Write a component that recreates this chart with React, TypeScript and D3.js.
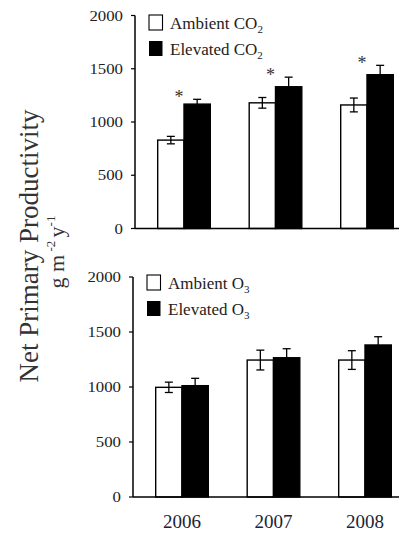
import React from "react";
import * as d3 from "d3";

const years = ["2006", "2007", "2008"];
const yTicks = [0, 500, 1000, 1500, 2000];

const co2Ambient = [830, 1180, 1160];
const co2AmbientErr = [35, 50, 65];
const co2Elevated = [1168, 1331, 1444];
const co2ElevatedErr = [45, 90, 88];
const co2Significant = [true, true, true];

const o3Ambient = [997, 1245, 1245];
const o3AmbientErr = [47, 90, 85];
const o3Elevated = [1012, 1266, 1382];
const o3ElevatedErr = [67, 82, 75];
const o3Significant = [false, false, false];

const W = 399;
const H = 533;
const FONT = "'Liberation Serif', 'Times New Roman', serif";

type PanelProps = {
  axisX: number;
  y0: number;
  y1: number;
  amb: number[];
  ambErr: number[];
  elev: number[];
  elevErr: number[];
  sig: boolean[];
  gas: string;
  legendX: number;
  legendY: number;
  showYears: boolean;
};

function Panel(p: PanelProps) {
  const x = d3
    .scaleBand<string>()
    .domain(years)
    .range([p.axisX, p.axisX + 281])
    .paddingInner(0.425)
    .paddingOuter(0.248);
  const y = d3.scaleLinear().domain([0, 2000]).range([p.y0, p.y1]);
  const bw = x.bandwidth() / 2;
  const cap = 4;

  const errBar = (cx: number, v: number, e: number, key: string) => (
    <g key={key} stroke="#000" strokeWidth={1.3}>
      <line x1={cx} x2={cx} y1={y(v - e)} y2={y(v + e)} />
      <line x1={cx - cap} x2={cx + cap} y1={y(v + e)} y2={y(v + e)} />
      <line x1={cx - cap} x2={cx + cap} y1={y(v - e)} y2={y(v - e)} />
    </g>
  );

  return (
    <g>
      {years.map((yr, i) => {
        const gx = x(yr)!;
        return (
          <g key={yr}>
            <rect
              x={gx}
              y={y(p.amb[i])}
              width={bw}
              height={y(0) - y(p.amb[i])}
              fill="#fff"
              stroke="#000"
              strokeWidth={1.4}
            />
            <rect
              x={gx + bw}
              y={y(p.elev[i])}
              width={bw}
              height={y(0) - y(p.elev[i])}
              fill="#000"
              stroke="#000"
              strokeWidth={1.4}
            />
            {errBar(gx + bw / 2, p.amb[i], p.ambErr[i], "a" + yr)}
            {errBar(gx + bw * 1.5, p.elev[i], p.elevErr[i], "e" + yr)}
            {p.sig[i] && (
              <text
                x={gx + bw - 5}
                y={y(p.elev[i] + p.elevErr[i]) + 4}
                fontFamily={FONT}
                fontSize={18}
                textAnchor="middle"
                fill="#333"
              >
                *
              </text>
            )}
          </g>
        );
      })}
      <line x1={p.axisX} x2={W} y1={y(0)} y2={y(0)} stroke="#000" strokeWidth={1.5} />
      <line x1={p.axisX} x2={p.axisX} y1={y(0)} y2={y(2000)} stroke="#000" strokeWidth={1.5} />
      {yTicks.map((t) => (
        <g key={t}>
          <line x1={p.axisX - 4} x2={p.axisX} y1={y(t)} y2={y(t)} stroke="#000" strokeWidth={1.2} />
          <text
            transform={`translate(${p.axisX - 12},${y(t) + 5}) scale(1.2,1)`}
            textAnchor="end"
            fontFamily={FONT}
            fontSize={14}
            fill="#222"
          >
            {t}
          </text>
        </g>
      ))}
      <rect x={p.legendX} y={p.legendY} width={13.5} height={15} fill="#fff" stroke="#000" strokeWidth={1.1} />
      <text x={p.legendX + 21} y={p.legendY + 14} fontFamily={FONT} fontSize={17} fill="#222">
        Ambient {p.gas}
        <tspan fontSize={11} dy={4}>
          {p.gas === "CO" ? "2" : "3"}
        </tspan>
      </text>
      <rect x={p.legendX} y={p.legendY + 26} width={13.5} height={15} fill="#000" />
      <text x={p.legendX + 21} y={p.legendY + 40} fontFamily={FONT} fontSize={17} fill="#222">
        Elevated {p.gas}
        <tspan fontSize={11} dy={4}>
          {p.gas === "CO" ? "2" : "3"}
        </tspan>
      </text>
      {p.showYears &&
        years.map((yr) => (
          <text
            key={"yl" + yr}
            x={x(yr)! + x.bandwidth() / 2}
            y={528}
            textAnchor="middle"
            fontFamily={FONT}
            fontSize={19}
            fill="#1a2438"
          >
            {yr}
          </text>
        ))}
    </g>
  );
}

export default function App() {
  return (
    <svg
      width={W}
      height={H}
      style={{ position: "absolute", left: 0, top: 0, background: "#fff" }}
    >
      <rect x={0} y={0} width={W} height={H} fill="#fff" />
      <Panel
        axisX={135}
        y0={228.5}
        y1={15.5}
        amb={co2Ambient}
        ambErr={co2AmbientErr}
        elev={co2Elevated}
        elevErr={co2ElevatedErr}
        sig={co2Significant}
        gas="CO"
        legendX={149}
        legendY={15}
        showYears={false}
      />
      <Panel
        axisX={133}
        y0={497}
        y1={277}
        amb={o3Ambient}
        ambErr={o3AmbientErr}
        elev={o3Elevated}
        elevErr={o3ElevatedErr}
        sig={o3Significant}
        gas="O"
        legendX={147}
        legendY={275}
        showYears={true}
      />
      <text
        transform="translate(38,246) rotate(-90)"
        textAnchor="middle"
        fontFamily={FONT}
        fontSize={27}
        fill="#333"
      >
        Net Primary Productivity
      </text>
      <text
        transform="translate(64,252) rotate(-90)"
        textAnchor="middle"
        fontFamily={FONT}
        fontSize={22}
        fill="#333"
      >
        g m
        <tspan fontSize={13} dy={-9}> -2 </tspan>
        <tspan dy={9}>y</tspan>
        <tspan fontSize={13} dy={-9}>-1</tspan>
      </text>
    </svg>
  );
}
